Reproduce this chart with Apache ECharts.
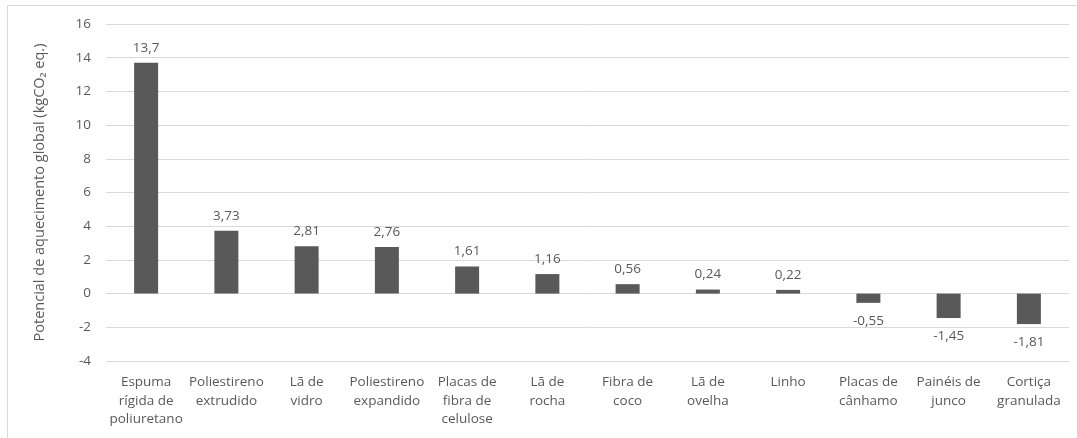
<!DOCTYPE html>
<html>
<head>
<meta charset="utf-8">
<script src="https://cdn.jsdelivr.net/npm/echarts@6/dist/echarts.min.js"></script>
<style>
  html, body { margin: 0; padding: 0; background: #fff; }
  #frame { position: absolute; left: 7px; top: 5px; width: 1080px; height: 450px; border: 1px solid #d9d9d9; box-sizing: border-box; }
  #chart { position: absolute; left: 0; top: 0; width: 1077px; height: 438px; }
</style>
</head>
<body>
<div id="frame"></div>
<div id="chart"></div>
<script>
// Insulation materials and their global warming potential
const categories = [
  'Espuma\nrígida de\npoliuretano',
  'Poliestireno\nextrudido',
  'Lã de\nvidro',
  'Poliestireno\nexpandido',
  'Placas de\nfibra de\ncelulose',
  'Lã de\nrocha',
  'Fibra de\ncoco',
  'Lã de\novelha',
  'Linho',
  'Placas de\ncânhamo',
  'Painéis de\njunco',
  'Cortiça\ngranulada'
];
const gwpValues = [13.7, 3.73, 2.81, 2.76, 1.61, 1.16, 0.56, 0.24, 0.22, -0.55, -1.45, -1.81];
const yTicks = { min: -4, max: 16, step: 2 };
const yTitle = 'Potencial de aquecimento global (kgCO₂ eq.)';

const fontFamily = '"Open Sans", "Noto Sans", sans-serif';
const textColor = '#595959';
const comma = v => String(v).replace('.', ',');

const chart = echarts.init(document.getElementById('chart'));
chart.setOption({
  animation: false,
  backgroundColor: 'transparent',
  grid: { left: 106, right: 8, top: 24, bottom: 77 },
  xAxis: {
    type: 'category',
    data: categories,
    axisLine: { show: false },
    axisTick: { show: false },
    axisLabel: {
      interval: 0,
      color: textColor,
      fontFamily: fontFamily,
      fontSize: 13.5,
      lineHeight: 18.5,
      margin: 12
    }
  },
  yAxis: {
    type: 'value',
    min: yTicks.min,
    max: yTicks.max,
    interval: yTicks.step,
    name: yTitle,
    nameLocation: 'middle',
    nameGap: 59,
    nameTextStyle: { color: textColor, fontFamily: fontFamily, fontSize: 14.5 },
    axisLine: { show: false },
    axisTick: { show: false },
    axisLabel: { color: textColor, fontFamily: fontFamily, fontSize: 13.5, margin: 15 },
    splitLine: { lineStyle: { color: '#d9d9d9', width: 1 } }
  },
  series: [{
    type: 'bar',
    data: gwpValues.map(v => ({
      value: v,
      label: { position: v >= 0 ? 'top' : 'bottom', distance: v >= 0 ? 8 : 11 }
    })),
    barWidth: 24,
    itemStyle: { color: '#595959' },
    label: {
      show: true,
      color: textColor,
      fontFamily: fontFamily,
      fontSize: 13.5,
      formatter: p => comma(p.value)
    }
  }]
});
</script>
</body>
</html>
